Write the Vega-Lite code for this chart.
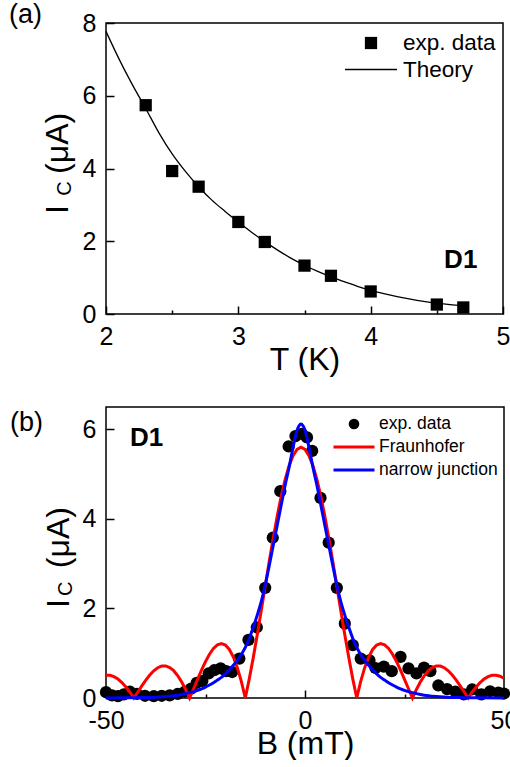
{
  "$schema": "https://vega.github.io/schema/vega-lite/v6.json",
  "background": "white",
  "padding": {"left": 8, "top": 0, "right": 0, "bottom": 0},
  "spacing": 30,
  "resolve": {"scale": {"color": "independent", "stroke": "independent", "shape": "independent", "strokeWidth": "independent", "x": "independent", "y": "independent"}, "legend": {"color": "independent", "stroke": "independent", "shape": "independent", "strokeWidth": "independent"}},
  "config": {
    "font": "Liberation Sans",
    "view": {"stroke": "black", "strokeWidth": 1.5},
    "axis": {"grid": false, "domain": false, "labelFont": "Liberation Sans", "labelFontSize": 25, "labelColor": "black", "tickColor": "black", "tickWidth": 1.5, "labelFlush": false, "labelOverlap": false, "titleFont": "Liberation Sans", "titleFontSize": 32, "titleFontWeight": "normal", "titleColor": "black"},
    "legend": {"orient": "none", "title": null, "padding": 0, "labelFont": "Liberation Sans", "labelColor": "black"},
    "text": {"font": "Liberation Sans", "color": "black"}
  },
  "vconcat": [
    {
      "width": 397,
      "height": 291,
      "layer": [
        {
          "data": {"values": [
            {"T": 2.0, "I": 7.77}, {"T": 2.1, "I": 7.0}, {"T": 2.2, "I": 6.3}, {"T": 2.3, "I": 5.65}, {"T": 2.4, "I": 4.98}, {"T": 2.5, "I": 4.4}, {"T": 2.6, "I": 3.92}, {"T": 2.7, "I": 3.5}, {"T": 2.8, "I": 3.13}, {"T": 2.9, "I": 2.82}, {"T": 3.0, "I": 2.53}, {"T": 3.1, "I": 2.25}, {"T": 3.2, "I": 1.99}, {"T": 3.3, "I": 1.75}, {"T": 3.4, "I": 1.53}, {"T": 3.5, "I": 1.34}, {"T": 3.6, "I": 1.17}, {"T": 3.7, "I": 1.02}, {"T": 3.8, "I": 0.89}, {"T": 3.9, "I": 0.76}, {"T": 4.0, "I": 0.65}, {"T": 4.1, "I": 0.56}, {"T": 4.2, "I": 0.48}, {"T": 4.3, "I": 0.41}, {"T": 4.4, "I": 0.35}, {"T": 4.5, "I": 0.3}, {"T": 4.6, "I": 0.26}, {"T": 4.7, "I": 0.23}
          ]},
          "mark": {"type": "line", "color": "black", "strokeWidth": 1.3, "interpolate": "monotone"},
          "encoding": {
            "x": {"field": "T", "type": "quantitative", "scale": {"domain": [2, 5], "nice": false, "zero": false},
              "axis": {"values": [2, 2.5, 3, 3.5, 4, 4.5, 5], "labelExpr": "datum.value % 1 === 0 ? toString(datum.value) : ''", "tickSize": {"condition": {"test": "datum.value % 1 !== 0", "value": -4}, "value": -8}, "labelPadding": 18, "title": "T (K)", "titlePadding": -9}},
            "y": {"field": "I", "type": "quantitative", "scale": {"domain": [0, 8], "nice": false},
              "axis": {"values": [0, 2, 4, 6, 8], "tickSize": -8, "labelPadding": 18, "title": null}}
          }
        },
        {
          "data": {"values": [
            {"T": 2.3, "I": 5.74, "series": "exp. data"}, {"T": 2.5, "I": 3.93, "series": "exp. data"}, {"T": 2.7, "I": 3.5, "series": "exp. data"}, {"T": 3.0, "I": 2.53, "series": "exp. data"}, {"T": 3.2, "I": 1.98, "series": "exp. data"}, {"T": 3.5, "I": 1.33, "series": "exp. data"}, {"T": 3.7, "I": 1.05, "series": "exp. data"}, {"T": 4.0, "I": 0.62, "series": "exp. data"}, {"T": 4.5, "I": 0.26, "series": "exp. data"}, {"T": 4.7, "I": 0.18, "series": "exp. data"}
          ]},
          "mark": {"type": "point", "filled": true, "size": 150, "opacity": 1},
          "encoding": {
            "x": {"field": "T", "type": "quantitative"},
            "y": {"field": "I", "type": "quantitative"},
            "color": {"field": "series", "type": "nominal", "scale": {"domain": ["exp. data", "Theory"], "range": ["black", "black"]},
              "legend": {"legendX": 253.75, "legendY": 8.75, "symbolSize": 150, "labelFontSize": 22.5, "labelOffset": 20.75, "rowPadding": 3.5}},
            "stroke": {"field": "series", "type": "nominal", "scale": {"domain": ["exp. data", "Theory"], "range": ["black", "black"]}},
            "shape": {"field": "series", "type": "nominal", "scale": {"domain": ["exp. data", "Theory"], "range": ["square", "M-4.25,0L4.25,0"]}},
            "strokeWidth": {"field": "series", "type": "nominal", "scale": {"type": "ordinal", "domain": ["exp. data", "Theory"], "range": [0, 1.5]}}
          }
        },
        {
          "data": {"values": [{"label": "(a)"}]},
          "mark": {"type": "text", "align": "left", "baseline": "alphabetic", "fontSize": 27},
          "encoding": {"x": {"datum": 1.267}, "y": {"datum": 8.0}, "text": {"field": "label"}}
        },
        {
          "data": {"values": [{"label": "D1"}]},
          "mark": {"type": "text", "align": "left", "baseline": "alphabetic", "fontSize": 26, "fontWeight": "bold"},
          "encoding": {"x": {"datum": 4.555}, "y": {"datum": 1.265}, "text": {"field": "label"}}
        },
        {
          "data": {"values": [{"label": "I"}]},
          "mark": {"type": "text", "align": "left", "baseline": "alphabetic", "fontSize": 32, "angle": 270},
          "encoding": {"x": {"datum": 1.7128}, "y": {"datum": 2.749}, "text": {"field": "label"}}
        },
        {
          "data": {"values": [{"label": "C"}]},
          "mark": {"type": "text", "align": "left", "baseline": "alphabetic", "fontSize": 20, "angle": 270},
          "encoding": {"x": {"datum": 1.7355}, "y": {"datum": 3.25}, "text": {"field": "label"}}
        },
        {
          "data": {"values": [{"label": "(μA)"}]},
          "mark": {"type": "text", "align": "left", "baseline": "alphabetic", "fontSize": 32, "angle": 270},
          "encoding": {"x": {"datum": 1.7128}, "y": {"datum": 3.85}, "text": {"field": "label"}}
        }
      ]
    },
    {
      "width": 398,
      "height": 291,
      "layer": [
        {
          "data": {"values": [
            {"B": -50, "I": 0.13, "series": "exp. data"}, {"B": -48.5, "I": 0.06, "series": "exp. data"}, {"B": -47, "I": 0.04, "series": "exp. data"}, {"B": -45.5, "I": 0.08, "series": "exp. data"}, {"B": -44, "I": 0.14, "series": "exp. data"}, {"B": -42.2, "I": 0.09, "series": "exp. data"}, {"B": -40.2, "I": 0.05, "series": "exp. data"}, {"B": -38, "I": 0.04, "series": "exp. data"}, {"B": -36, "I": 0.05, "series": "exp. data"}, {"B": -34, "I": 0.06, "series": "exp. data"}, {"B": -32, "I": 0.09, "series": "exp. data"}, {"B": -30.2, "I": 0.14, "series": "exp. data"}, {"B": -28.6, "I": 0.21, "series": "exp. data"}, {"B": -27.2, "I": 0.34, "series": "exp. data"}, {"B": -25.8, "I": 0.38, "series": "exp. data"}, {"B": -24.2, "I": 0.55, "series": "exp. data"}, {"B": -22.8, "I": 0.62, "series": "exp. data"}, {"B": -21.2, "I": 0.66, "series": "exp. data"}, {"B": -19.8, "I": 0.6, "series": "exp. data"}, {"B": -18.3, "I": 0.58, "series": "exp. data"}, {"B": -16.5, "I": 0.88, "series": "exp. data"}, {"B": -14.2, "I": 1.3, "series": "exp. data"}, {"B": -12.1, "I": 1.58, "series": "exp. data"}, {"B": -10, "I": 2.46, "series": "exp. data"}, {"B": -8.1, "I": 3.58, "series": "exp. data"}, {"B": -6.2, "I": 4.62, "series": "exp. data"}, {"B": -4.1, "I": 5.62, "series": "exp. data"}, {"B": -2.4, "I": 5.85, "series": "exp. data"}, {"B": -0.8, "I": 5.9, "series": "exp. data"}, {"B": 0.5, "I": 5.82, "series": "exp. data"}, {"B": 1.8, "I": 5.52, "series": "exp. data"}, {"B": 3.9, "I": 4.47, "series": "exp. data"}, {"B": 5.95, "I": 3.47, "series": "exp. data"}, {"B": 8, "I": 2.46, "series": "exp. data"}, {"B": 10, "I": 1.66, "series": "exp. data"}, {"B": 12, "I": 1.18, "series": "exp. data"}, {"B": 14, "I": 0.88, "series": "exp. data"}, {"B": 16.2, "I": 0.84, "series": "exp. data"}, {"B": 17.7, "I": 0.67, "series": "exp. data"}, {"B": 19.8, "I": 0.7, "series": "exp. data"}, {"B": 21.8, "I": 0.6, "series": "exp. data"}, {"B": 24, "I": 0.92, "series": "exp. data"}, {"B": 26, "I": 0.66, "series": "exp. data"}, {"B": 28, "I": 0.55, "series": "exp. data"}, {"B": 29.9, "I": 0.68, "series": "exp. data"}, {"B": 31.5, "I": 0.6, "series": "exp. data"}, {"B": 33.5, "I": 0.28, "series": "exp. data"}, {"B": 35.7, "I": 0.2, "series": "exp. data"}, {"B": 37.8, "I": 0.14, "series": "exp. data"}, {"B": 39.9, "I": 0.08, "series": "exp. data"}, {"B": 42, "I": 0.19, "series": "exp. data"}, {"B": 44.3, "I": 0.08, "series": "exp. data"}, {"B": 46.5, "I": 0.15, "series": "exp. data"}, {"B": 48.6, "I": 0.12, "series": "exp. data"}, {"B": 50, "I": 0.1, "series": "exp. data"}
          ]},
          "mark": {"type": "point", "filled": true, "size": 150, "opacity": 1},
          "encoding": {
            "x": {"field": "B", "type": "quantitative", "scale": {"domain": [-50, 50], "nice": false, "zero": false},
              "axis": {"values": [-50, -25, 0, 25, 50], "labelExpr": "abs(datum.value) === 25 ? '' : toString(datum.value)", "tickSize": {"condition": {"test": "abs(datum.value) === 25", "value": -4}, "value": -8}, "labelPadding": 18, "title": "B (mT)", "titlePadding": -9}},
            "y": {"field": "I", "type": "quantitative", "scale": {"domain": [0, 6.5], "nice": false},
              "axis": {"values": [0, 2, 4, 6], "tickSize": -8, "labelPadding": 18, "title": null}},
            "color": {"field": "series", "type": "nominal", "scale": {"domain": ["exp. data", "Fraunhofer", "narrow junction"], "range": ["black", "#ff0000", "#0000ff"]},
              "legend": {"legendX": 239.25, "legendY": 8.25, "symbolSize": 113, "labelFontSize": 17.5, "labelOffset": 16.25, "rowPadding": 4}},
            "stroke": {"field": "series", "type": "nominal", "scale": {"domain": ["exp. data", "Fraunhofer", "narrow junction"], "range": ["black", "#ff0000", "#0000ff"]}},
            "shape": {"field": "series", "type": "nominal", "scale": {"domain": ["exp. data", "Fraunhofer", "narrow junction"], "range": ["circle", "M-3.86,0L3.86,0", "M-3.86,0L3.86,0"]}},
            "strokeWidth": {"field": "series", "type": "nominal", "scale": {"type": "ordinal", "domain": ["exp. data", "Fraunhofer", "narrow junction"], "range": [0, 3, 3]}}
          }
        },
        {
          "data": {"values": [
            {"B": -50, "I": 0.509}, {"B": -49, "I": 0.507}, {"B": -48, "I": 0.478}, {"B": -47, "I": 0.424}, {"B": -46, "I": 0.346}, {"B": -45, "I": 0.246}, {"B": -44, "I": 0.129}, {"B": -43, "I": 0}, {"B": -42, "I": 0.135}, {"B": -41, "I": 0.271}, {"B": -40, "I": 0.399}, {"B": -39, "I": 0.513}, {"B": -38, "I": 0.608}, {"B": -37, "I": 0.676}, {"B": -36, "I": 0.713}, {"B": -35, "I": 0.716}, {"B": -34, "I": 0.681}, {"B": -33, "I": 0.61}, {"B": -32, "I": 0.502}, {"B": -31, "I": 0.361}, {"B": -30, "I": 0.191}, {"B": -29, "I": 0}, {"B": -28, "I": 0.206}, {"B": -27, "I": 0.416}, {"B": -26, "I": 0.622}, {"B": -25, "I": 0.813}, {"B": -24, "I": 0.978}, {"B": -23, "I": 1.106}, {"B": -22, "I": 1.188}, {"B": -21, "I": 1.216}, {"B": -20, "I": 1.183}, {"B": -19, "I": 1.084}, {"B": -18, "I": 0.915}, {"B": -17, "I": 0.677}, {"B": -16, "I": 0.37}, {"B": -15, "I": 0}, {"B": -14, "I": 0.427}, {"B": -13, "I": 0.902}, {"B": -12, "I": 1.414}, {"B": -11, "I": 1.951}, {"B": -10, "I": 2.498}, {"B": -9, "I": 3.041}, {"B": -8, "I": 3.565}, {"B": -7, "I": 4.055}, {"B": -6, "I": 4.497}, {"B": -5, "I": 4.877}, {"B": -4, "I": 5.186}, {"B": -3, "I": 5.414}, {"B": -2, "I": 5.553}, {"B": -1, "I": 5.6}, {"B": 0, "I": 5.553}, {"B": 1, "I": 5.414}, {"B": 2, "I": 5.186}, {"B": 3, "I": 4.877}, {"B": 4, "I": 4.497}, {"B": 5, "I": 4.055}, {"B": 6, "I": 3.565}, {"B": 7, "I": 3.041}, {"B": 8, "I": 2.498}, {"B": 9, "I": 1.951}, {"B": 10, "I": 1.414}, {"B": 11, "I": 0.902}, {"B": 12, "I": 0.427}, {"B": 13, "I": 0}, {"B": 14, "I": 0.37}, {"B": 15, "I": 0.677}, {"B": 16, "I": 0.915}, {"B": 17, "I": 1.084}, {"B": 18, "I": 1.183}, {"B": 19, "I": 1.216}, {"B": 20, "I": 1.188}, {"B": 21, "I": 1.106}, {"B": 22, "I": 0.978}, {"B": 23, "I": 0.813}, {"B": 24, "I": 0.622}, {"B": 25, "I": 0.416}, {"B": 26, "I": 0.206}, {"B": 27, "I": 0}, {"B": 28, "I": 0.191}, {"B": 29, "I": 0.361}, {"B": 30, "I": 0.502}, {"B": 31, "I": 0.61}, {"B": 32, "I": 0.681}, {"B": 33, "I": 0.716}, {"B": 34, "I": 0.713}, {"B": 35, "I": 0.676}, {"B": 36, "I": 0.608}, {"B": 37, "I": 0.513}, {"B": 38, "I": 0.399}, {"B": 39, "I": 0.271}, {"B": 40, "I": 0.135}, {"B": 41, "I": 0}, {"B": 42, "I": 0.129}, {"B": 43, "I": 0.246}, {"B": 44, "I": 0.346}, {"B": 45, "I": 0.424}, {"B": 46, "I": 0.478}, {"B": 47, "I": 0.507}, {"B": 48, "I": 0.509}, {"B": 49, "I": 0.487}, {"B": 50, "I": 0.441}
          ]},
          "mark": {"type": "line", "color": "#ff0000", "strokeWidth": 3},
          "encoding": {"x": {"field": "B", "type": "quantitative"}, "y": {"field": "I", "type": "quantitative"}}
        },
        {
          "data": {"values": [
            {"B": -50, "I": 0.002}, {"B": -46, "I": 0.004}, {"B": -41, "I": 0.01}, {"B": -37, "I": 0.022}, {"B": -35, "I": 0.034}, {"B": -33, "I": 0.052}, {"B": -31, "I": 0.08}, {"B": -29, "I": 0.12}, {"B": -27, "I": 0.17}, {"B": -26, "I": 0.205}, {"B": -25, "I": 0.245}, {"B": -24, "I": 0.29}, {"B": -23, "I": 0.34}, {"B": -22, "I": 0.4}, {"B": -21, "I": 0.46}, {"B": -20, "I": 0.54}, {"B": -19, "I": 0.63}, {"B": -18, "I": 0.73}, {"B": -17, "I": 0.84}, {"B": -16, "I": 0.97}, {"B": -15, "I": 1.13}, {"B": -14, "I": 1.33}, {"B": -13, "I": 1.58}, {"B": -12, "I": 1.85}, {"B": -11, "I": 2.15}, {"B": -10, "I": 2.52}, {"B": -9, "I": 2.95}, {"B": -8, "I": 3.4}, {"B": -7, "I": 3.85}, {"B": -6, "I": 4.3}, {"B": -5, "I": 4.75}, {"B": -4, "I": 5.15}, {"B": -3, "I": 5.6}, {"B": -2, "I": 5.98}, {"B": -1.5, "I": 6.08}, {"B": -1, "I": 6.12}, {"B": -0.5, "I": 6.08}, {"B": 0, "I": 5.98}, {"B": 1, "I": 5.6}, {"B": 2, "I": 5.15}, {"B": 3, "I": 4.75}, {"B": 4, "I": 4.3}, {"B": 5, "I": 3.85}, {"B": 6, "I": 3.4}, {"B": 7, "I": 2.95}, {"B": 8, "I": 2.52}, {"B": 9, "I": 2.15}, {"B": 10, "I": 1.85}, {"B": 11, "I": 1.58}, {"B": 12, "I": 1.33}, {"B": 13, "I": 1.13}, {"B": 14, "I": 0.97}, {"B": 15, "I": 0.84}, {"B": 16, "I": 0.73}, {"B": 17, "I": 0.63}, {"B": 18, "I": 0.54}, {"B": 19, "I": 0.46}, {"B": 20, "I": 0.4}, {"B": 21, "I": 0.34}, {"B": 22, "I": 0.29}, {"B": 23, "I": 0.245}, {"B": 24, "I": 0.205}, {"B": 25, "I": 0.17}, {"B": 27, "I": 0.12}, {"B": 29, "I": 0.08}, {"B": 31, "I": 0.052}, {"B": 33, "I": 0.034}, {"B": 35, "I": 0.022}, {"B": 39, "I": 0.01}, {"B": 44, "I": 0.004}, {"B": 50, "I": 0.001}
          ]},
          "mark": {"type": "line", "color": "#0000ff", "strokeWidth": 3, "interpolate": "monotone"},
          "encoding": {"x": {"field": "B", "type": "quantitative"}, "y": {"field": "I", "type": "quantitative"}}
        },
        {
          "data": {"values": [{"label": "(b)"}]},
          "mark": {"type": "text", "align": "left", "baseline": "alphabetic", "fontSize": 27},
          "encoding": {"x": {"datum": -74.1}, "y": {"datum": 5.96}, "text": {"field": "label"}}
        },
        {
          "data": {"values": [{"label": "D1"}]},
          "mark": {"type": "text", "align": "left", "baseline": "alphabetic", "fontSize": 26, "fontWeight": "bold"},
          "encoding": {"x": {"datum": -43.97}, "y": {"datum": 5.625}, "text": {"field": "label"}}
        },
        {
          "data": {"values": [{"label": "I"}]},
          "mark": {"type": "text", "align": "left", "baseline": "alphabetic", "fontSize": 32, "angle": 270},
          "encoding": {"x": {"datum": -59.3}, "y": {"datum": 2.01}, "text": {"field": "label"}}
        },
        {
          "data": {"values": [{"label": "C"}]},
          "mark": {"type": "text", "align": "left", "baseline": "alphabetic", "fontSize": 20, "angle": 270},
          "encoding": {"x": {"datum": -58.5}, "y": {"datum": 2.28}, "text": {"field": "label"}}
        },
        {
          "data": {"values": [{"label": "(μA)"}]},
          "mark": {"type": "text", "align": "left", "baseline": "alphabetic", "fontSize": 32, "angle": 270},
          "encoding": {"x": {"datum": -59.3}, "y": {"datum": 2.9}, "text": {"field": "label"}}
        }
      ]
    }
  ]
}
